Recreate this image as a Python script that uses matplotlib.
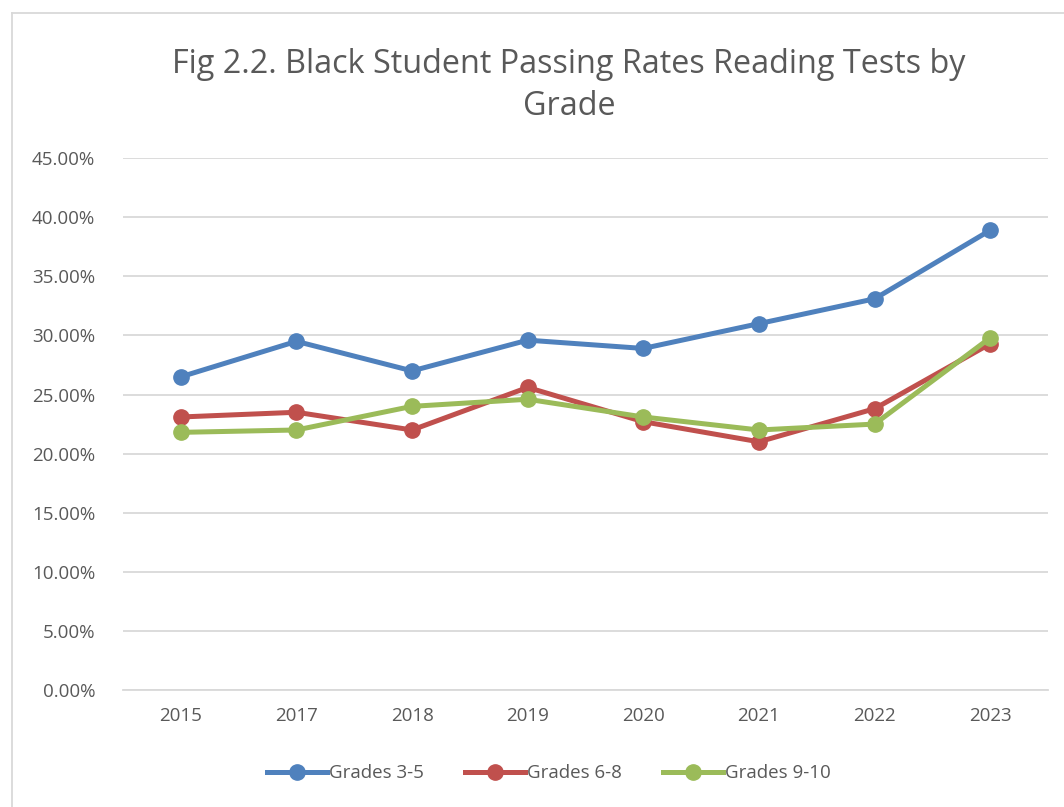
import matplotlib
matplotlib.use("Agg")
import matplotlib.pyplot as plt
from matplotlib.lines import Line2D
from matplotlib.ticker import FuncFormatter

# Years (categories)
years = ["2015", "2017", "2018", "2019", "2020", "2021", "2022", "2023"]

# Passing rates (%)
grades_3_5 = [26.5, 29.5, 27.0, 29.6, 28.9, 31.0, 33.1, 38.9]
grades_6_8 = [23.1, 23.5, 22.0, 25.6, 22.7, 21.0, 23.8, 29.3]
grades_9_10 = [21.8, 22.0, 24.0, 24.6, 23.1, 22.0, 22.5, 29.8]

series_names = ["Grades 3-5", "Grades 6-8", "Grades 9-10"]
colors = ["#4f81bd", "#c0504d", "#9bbb59"]
text_color = "#595959"

plt.rcParams["font.family"] = ["Open Sans", "DejaVu Sans"]

fig = plt.figure(figsize=(10.64, 8.07), dpi=100)
ax = fig.add_axes([0.1156, 0.145, 0.8694, 0.659])

x = list(range(len(years)))
for vals, name, c in zip([grades_3_5, grades_6_8, grades_9_10], series_names, colors):
    ax.plot(x, vals, color=c, linewidth=3.6, marker="o", markersize=11,
            label=name, solid_capstyle="round", zorder=3)

ax.set_xlim(-0.5, len(years) - 0.5)
ax.set_ylim(0, 45)
ax.set_yticks([0, 5, 10, 15, 20, 25, 30, 35, 40, 45])
ax.yaxis.set_major_formatter(FuncFormatter(lambda v, p: f"{v:.2f}%"))
ax.set_xticks(x)
ax.set_xticklabels(years)
ax.grid(axis="y", color="#d9d9d9", linewidth=1.3)
ax.set_axisbelow(True)
for s in ["top", "right", "left"]:
    ax.spines[s].set_visible(False)
ax.spines["bottom"].set_color("#d9d9d9")
ax.spines["bottom"].set_linewidth(1.3)
ax.tick_params(axis="both", length=0, colors=text_color, labelsize=13.5)
ax.tick_params(axis="y", pad=20)
ax.tick_params(axis="x", pad=12)

fig.text(0.535, 0.8935, "Fig 2.2. Black Student Passing Rates Reading Tests by\nGrade",
         ha="center", va="center", fontsize=23.3, color=text_color, linespacing=1.36)

handles = [Line2D([0], [0], color=c, linewidth=3.6, marker="o", markersize=11)
           for c in colors]
fig.legend(handles, series_names, loc="center", bbox_to_anchor=(0.516, 0.042),
           ncol=3, frameon=False, fontsize=13.5, labelcolor=text_color,
           handlelength=3.2, handletextpad=0.1, columnspacing=2.2)

# chart border
fig.add_artist(Line2D([0.0113, 0.0113], [0, 0.984], color="#d9d9d9", linewidth=1.3))
fig.add_artist(Line2D([0.0113, 1], [0.984, 0.984], color="#d9d9d9", linewidth=1.3))

fig.savefig("out.png", dpi=100)
